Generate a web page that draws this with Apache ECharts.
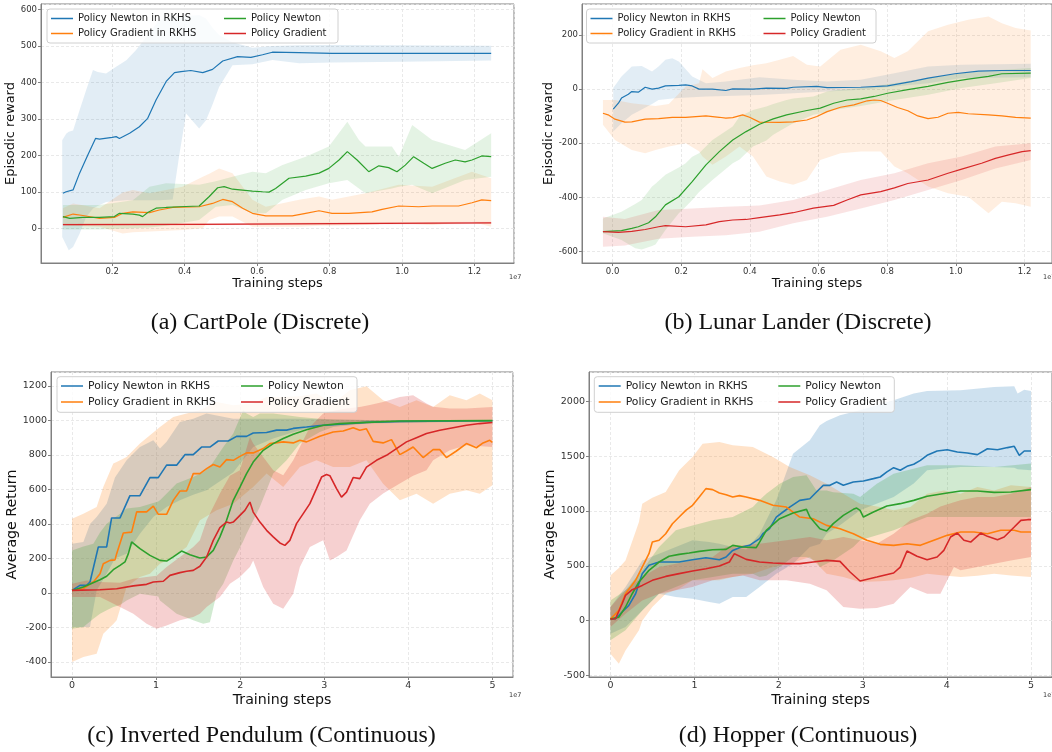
<!DOCTYPE html>
<html>
<head>
<meta charset="utf-8">
<script src="https://cdn.jsdelivr.net/npm/echarts@6/dist/echarts.min.js"></script>
<style>
  html, body { margin: 0; padding: 0; background: #fff; }
  #chart { width: 1052px; height: 752px; }
</style>
</head>
<body>
<div id="chart"></div>
<script>
// ---- data: [step (1e7), value] and bands [step, low, high] ----

// (a) CartPole
const cartNewtonRkhs = [[0.064,97],[0.073,101],[0.092,106],[0.110,152],[0.133,202],[0.154,247],[0.165,245],[0.200,250],[0.211,252],[0.220,247],[0.248,261],[0.275,279],[0.298,302],[0.321,352],[0.349,403],[0.372,427],[0.390,430],[0.417,433],[0.450,427],[0.477,436],[0.505,459],[0.546,471],[0.583,469],[0.615,476],[0.642,483],[0.716,482],[0.807,480],[0.991,480],[1.246,480]]
const cartNewtonRkhsBand = [[0.062,-23,242],[0.073,-45,260],[0.080,-59,265],[0.092,-50,269],[0.110,-14,324],[0.128,32,379],[0.147,55,434],[0.160,62,429],[0.183,73,425],[0.211,76,443],[0.239,78,461],[0.266,78,489],[0.294,78,525],[0.312,78,548],[0.330,78,571],[0.367,80,578],[0.385,200,580],[0.404,315,582],[0.440,274,585],[0.459,297,575],[0.477,340,550],[0.495,388,530],[0.532,447,510],[0.587,450,495],[0.642,462,500],[0.716,453,502],[0.807,455,503],[1.0,457,502],[1.246,460,501]]
const cartGradRkhs = [[0.064,31],[0.092,40],[0.119,36],[0.165,28],[0.206,31],[0.229,42],[0.257,46],[0.303,44],[0.330,51],[0.367,58],[0.440,60],[0.477,69],[0.505,80],[0.532,74],[0.560,56],[0.587,42],[0.624,35],[0.697,35],[0.734,42],[0.771,49],[0.807,42],[0.853,42],[0.917,46],[0.945,53],[0.991,62],[1.046,60],[1.083,62],[1.156,62],[1.193,71],[1.220,79],[1.246,77]]
const cartGradRkhsBand = [[0.064,10,56],[0.092,8,69],[0.165,5,56],[0.229,-13,99],[0.257,-10,106],[0.303,-8,97],[0.394,-4,115],[0.450,1,142],[0.468,24,150],[0.495,33,165],[0.532,33,152],[0.587,5,79],[0.624,5,60],[0.716,5,79],[0.771,8,88],[0.807,8,79],[0.899,10,97],[0.991,15,120],[1.083,10,115],[1.193,19,156],[1.246,5,138]]
const cartNewton = [[0.064,33],[0.083,28],[0.119,31],[0.165,31],[0.206,33],[0.220,42],[0.257,40],[0.275,37],[0.284,33],[0.298,44],[0.321,56],[0.349,58],[0.385,60],[0.440,62],[0.468,88],[0.491,112],[0.509,115],[0.532,108],[0.587,103],[0.615,101],[0.633,100],[0.651,110],[0.688,138],[0.734,144],[0.771,152],[0.798,165],[0.826,188],[0.849,211],[0.876,188],[0.908,156],[0.936,172],[0.963,167],[0.986,156],[1.009,174],[1.032,197],[1.060,179],[1.083,165],[1.119,179],[1.147,188],[1.174,183],[1.193,188],[1.220,199],[1.246,197]]
const cartNewtonBand = [[0.064,-2,65],[0.165,-2,65],[0.257,1,78],[0.303,3,115],[0.349,8,124],[0.440,24,120],[0.486,60,130],[0.532,65,142],[0.587,42,156],[0.624,42,152],[0.670,79,174],[0.734,106,197],[0.798,124,225],[0.849,133,293],[0.881,110,243],[0.899,97,225],[0.972,110,225],[0.991,115,197],[1.028,120,284],[1.083,97,243],[1.174,133,215],[1.246,142,261]]
const cartGrad = [[0.064,11],[0.440,12],[0.807,14],[1.246,16]]
const cartGradBand = [[0.064,8,14],[0.440,9,15],[0.807,11,17],[1.246,13,19]]

// (b) Lunar Lander
const lunarNewtonRkhs = [[0.002,-74],[0.017,-52],[0.026,-33],[0.046,-19],[0.056,-9],[0.075,-11],[0.095,7],[0.115,0],[0.134,4],[0.154,12],[0.193,14],[0.213,16],[0.232,12],[0.252,0],[0.291,0],[0.330,-5],[0.350,1],[0.409,0],[0.448,4],[0.507,3],[0.526,7],[0.595,10],[0.625,6],[0.723,7],[0.801,12],[0.870,28],[0.919,41],[0.997,57],[1.066,67],[1.134,69],[1.218,69]]
const lunarNewtonRkhsBand = [[0.002,-157,4],[0.026,-126,47],[0.056,-95,84],[0.085,-75,86],[0.115,-55,65],[0.134,-40,84],[0.154,-37,109],[0.174,-35,114],[0.193,-33,102],[0.232,-30,47],[0.272,-27,22],[0.330,-25,28],[0.428,-22,44],[0.526,-15,35],[0.625,-9,28],[0.723,-2,35],[0.821,10,59],[0.919,22,84],[1.017,41,90],[1.218,44,94]]
const lunarGradRkhs = [[-0.028,-89],[-0.013,-95],[0.007,-111],[0.036,-122],[0.056,-121],[0.095,-111],[0.134,-109],[0.174,-104],[0.213,-104],[0.272,-99],[0.311,-104],[0.330,-107],[0.350,-105],[0.379,-95],[0.399,-104],[0.428,-122],[0.487,-123],[0.526,-121],[0.566,-114],[0.595,-101],[0.625,-83],[0.664,-67],[0.703,-58],[0.742,-43],[0.762,-40],[0.781,-42],[0.801,-52],[0.830,-68],[0.860,-80],[0.889,-99],[0.919,-109],[0.948,-104],[0.977,-89],[1.007,-86],[1.036,-91],[1.095,-95],[1.134,-99],[1.174,-104],[1.218,-107]]
const lunarGradRkhsBand = [[-0.028,-132,-40],[0.007,-188,-40],[0.056,-225,-52],[0.095,-237,-58],[0.125,-225,-62],[0.164,-212,-55],[0.213,-200,10],[0.252,-230,22],[0.262,-249,74],[0.291,-280,41],[0.330,-249,65],[0.370,-212,78],[0.409,-249,88],[0.448,-323,96],[0.487,-342,109],[0.526,-354,123],[0.566,-336,90],[0.605,-262,84],[0.664,-237,146],[0.723,-231,164],[0.781,-231,140],[0.821,-286,115],[0.860,-311,140],[0.919,-360,214],[0.977,-385,238],[1.036,-398,257],[1.095,-459,269],[1.134,-416,244],[1.174,-422,226],[1.218,-435,217]]
const lunarNewton = [[-0.028,-527],[0.026,-523],[0.056,-515],[0.075,-509],[0.105,-494],[0.125,-472],[0.154,-428],[0.193,-398],[0.232,-342],[0.272,-280],[0.311,-231],[0.350,-188],[0.389,-157],[0.428,-130],[0.468,-110],[0.507,-95],[0.566,-79],[0.605,-70],[0.644,-52],[0.683,-40],[0.723,-36],[0.762,-27],[0.801,-15],[0.860,-2],[0.919,10],[0.977,25],[1.036,37],[1.095,47],[1.134,57],[1.218,59]]
const lunarNewtonBand = [[-0.028,-533,-478],[0.026,-558,-453],[0.066,-588,-425],[0.085,-593,-410],[0.115,-580,-360],[0.125,-575,-350],[0.154,-521,-317],[0.193,-459,-290],[0.213,-435,-274],[0.232,-410,-250],[0.252,-380,-237],[0.291,-336,-188],[0.350,-274,-138],[0.370,-260,-101],[0.409,-212,-77],[0.448,-190,-64],[0.468,-169,-55],[0.507,-140,-40],[0.526,-126,-35],[0.585,-95,-27],[0.625,-85,-9],[0.644,-77,-5],[0.723,-62,4],[0.821,-40,22],[0.919,-21,41],[1.017,4,59],[1.115,22,70],[1.218,41,78]]
const lunarGrad = [[-0.028,-527],[0.017,-530],[0.056,-526],[0.095,-519],[0.134,-509],[0.154,-505],[0.213,-509],[0.272,-502],[0.311,-490],[0.350,-484],[0.389,-482],[0.428,-475],[0.487,-465],[0.526,-457],[0.585,-440],[0.644,-430],[0.683,-410],[0.723,-391],[0.781,-379],[0.821,-365],[0.860,-349],[0.919,-336],[0.977,-311],[1.017,-296],[1.075,-274],[1.115,-256],[1.154,-243],[1.193,-231],[1.218,-227]]
const lunarGradBand = [[-0.028,-583,-472],[0.036,-578,-480],[0.134,-553,-447],[0.232,-546,-441],[0.330,-540,-435],[0.428,-527,-430],[0.526,-496,-410],[0.625,-472,-373],[0.723,-441,-336],[0.821,-410,-311],[0.919,-373,-274],[1.017,-336,-249],[1.115,-293,-212],[1.218,-262,-200]]

// (c) Inverted Pendulum
const pendNewtonRkhs = [[0,15],[0.095,44],[0.174,44],[0.214,64],[0.313,267],[0.412,267],[0.471,435],[0.571,435],[0.689,564],[0.808,564],[0.927,669],[1.026,669],[1.125,741],[1.244,741],[1.343,802],[1.442,802],[1.541,846],[1.640,846],[1.739,881],[1.858,881],[1.957,908],[2.076,908],[2.155,927],[2.314,930],[2.433,944],[2.552,944],[2.631,954],[2.789,962],[2.948,971],[3.106,975],[3.502,989],[3.899,994],[5.0,998]]
const pendNewtonRkhsBand = [[0,-197,286],[0.135,-197,296],[0.214,-197,400],[0.293,15,440],[0.412,112,518],[0.511,200,669],[0.649,228,769],[0.808,344,846],[0.967,440,885],[1.046,470,837],[1.125,498,876],[1.283,537,991],[1.442,570,1010],[1.600,595,1040],[1.918,700,1010],[2.155,846,1010],[2.393,895,1010],[2.710,943,1010],[3.106,972,1005],[3.502,986,1003],[5.0,996,1001]]
const pendGradRkhs = [[0,15],[0.135,25],[0.254,64],[0.333,112],[0.372,170],[0.452,189],[0.511,192],[0.531,228],[0.610,348],[0.709,353],[0.769,470],[0.887,470],[0.967,504],[1.026,456],[1.125,456],[1.204,537],[1.284,591],[1.363,591],[1.442,692],[1.521,692],[1.601,721],[1.680,745],[1.759,730],[1.838,773],[1.918,769],[1.997,792],[2.076,812],[2.155,812],[2.274,837],[2.353,866],[2.512,876],[2.631,870],[2.710,885],[2.789,876],[2.948,908],[3.106,933],[3.225,939],[3.344,958],[3.423,943],[3.502,952],[3.582,879],[3.700,870],[3.800,889],[3.899,802],[3.978,823],[4.057,846],[4.176,785],[4.295,831],[4.374,831],[4.453,785],[4.572,823],[4.691,866],[4.810,842],[4.889,870],[4.968,885],[5.0,873]]
const pendGradRkhsBand = [[0,-400,431],[0.135,-371,460],[0.293,-352,498],[0.372,-236,614],[0.491,-180,750],[0.531,-158,760],[0.649,35,788],[0.808,93,866],[0.927,112,914],[1.046,170,962],[1.204,209,1020],[1.363,267,1040],[1.521,421,1059],[1.720,479,1107],[1.918,518,1088],[2.155,614,1098],[2.314,692,1136],[2.512,614,1136],[2.710,730,1140],[2.908,769,1156],[3.106,730,1098],[3.304,730,1175],[3.502,769,1198],[3.700,633,1117],[3.899,537,1078],[4.097,575,1117],[4.295,518,1078],[4.493,575,1146],[4.691,595,1117],[4.850,575,1156],[5.0,624,1117]]
const pendNewton = [[0,15],[0.135,35],[0.333,77],[0.412,97],[0.491,135],[0.571,160],[0.630,180],[0.670,228],[0.709,296],[0.808,257],[0.927,218],[1.046,189],[1.125,185],[1.204,209],[1.303,243],[1.403,222],[1.521,203],[1.601,209],[1.680,247],[1.759,325],[1.838,421],[1.918,537],[1.997,614],[2.076,692],[2.155,759],[2.274,827],[2.393,866],[2.512,895],[2.631,920],[2.789,946],[2.987,972],[3.185,982],[3.502,989],[3.899,997],[5.0,999]]
const pendNewtonBand = [[0,-207,247],[0.135,-197,270],[0.254,-150,286],[0.333,-120,350],[0.412,-100,402],[0.491,-81,430],[0.571,-70,460],[0.649,-43,490],[0.808,-4,498],[1.026,-20,530],[1.046,-43,537],[1.244,-120,634],[1.442,-158,672],[1.561,-178,700],[1.640,-170,730],[1.720,-4,788],[1.799,54,846],[1.918,189,924],[2.036,300,1059],[2.076,344,1040],[2.155,420,1020],[2.234,498,1040],[2.393,692,1040],[2.552,769,1030],[2.710,866,1020],[2.948,933,1010],[3.106,962,1005],[3.502,982,1003],[5.0,996,1001]]
const pendGrad = [[0,15],[0.333,19],[0.531,25],[0.729,41],[0.887,50],[0.967,64],[1.086,68],[1.165,102],[1.284,118],[1.363,126],[1.442,131],[1.521,155],[1.601,209],[1.680,305],[1.759,379],[1.838,411],[1.878,406],[1.918,411],[1.997,450],[2.056,479],[2.116,527],[2.155,469],[2.235,411],[2.314,363],[2.393,325],[2.472,290],[2.532,276],[2.591,305],[2.670,402],[2.750,460],[2.829,518],[2.908,605],[2.968,672],[3.027,687],[3.067,680],[3.146,605],[3.205,556],[3.265,585],[3.344,669],[3.423,663],[3.502,730],[3.621,769],[3.740,798],[3.859,837],[3.978,876],[4.097,900],[4.216,924],[4.374,943],[4.533,958],[4.691,972],[4.850,982],[5.0,988]]
const pendGradBand = [[0,-23,54],[0.174,-23,73],[0.333,-23,64],[0.571,-81,60],[0.729,-120,83],[0.887,-178,93],[1.006,-207,100],[1.125,-188,151],[1.284,-158,209],[1.442,-139,267],[1.521,-120,305],[1.601,-81,421],[1.759,-23,576],[1.878,54,680],[1.997,93,711],[2.116,150,904],[2.155,189,866],[2.274,35,788],[2.393,-62,711],[2.512,-91,682],[2.631,-4,769],[2.710,151,846],[2.829,267,962],[2.987,305,1040],[3.067,189,1050],[3.146,209,1060],[3.265,247,1069],[3.423,421,1078],[3.542,518,1090],[3.700,576,1107],[3.899,634,1136],[4.057,680,1146],[4.216,711,1098],[4.295,769,1080],[4.493,827,1069],[4.691,856,1069],[5.0,846,1078]]

// (d) Hopper
const hopNewtonRkhs = [[0,15],[0.060,18],[0.139,79],[0.219,140],[0.299,246],[0.378,429],[0.458,505],[0.578,535],[0.817,535],[0.976,556],[1.135,574],[1.295,556],[1.375,581],[1.454,641],[1.534,666],[1.653,687],[1.773,748],[1.813,793],[1.892,839],[1.972,945],[2.052,991],[2.131,1036],[2.251,1097],[2.371,1112],[2.450,1173],[2.530,1234],[2.610,1234],[2.689,1264],[2.769,1234],[2.888,1264],[3.008,1274],[3.127,1295],[3.207,1310],[3.287,1356],[3.367,1395],[3.446,1371],[3.526,1407],[3.606,1426],[3.685,1462],[3.765,1508],[3.884,1547],[4.004,1559],[4.124,1538],[4.243,1529],[4.363,1514],[4.482,1568],[4.602,1559],[4.721,1578],[4.801,1590],[4.861,1508],[4.920,1547],[5.0,1547]]
const hopNewtonRkhsBand = [[0,-119,125],[0.179,-58,307],[0.378,94,550],[0.578,246,611],[0.777,216,672],[0.976,200,733],[1.175,170,717],[1.295,155,702],[1.454,216,672],[1.614,216,650],[1.773,307,793],[1.972,429,1097],[2.171,520,1523],[2.371,672,1644],[2.490,700,1781],[2.570,793,1820],[2.729,870,1872],[2.968,1006,1918],[3.367,1128,2009],[3.606,1250,2070],[3.765,1371,2094],[4.163,1401,2100],[4.562,1401,2131],[4.801,1395,2137],[4.841,1380,2070],[4.920,1375,2106],[5.0,1371,2094]]
const hopGradRkhs = [[0,15],[0.100,94],[0.179,246],[0.299,368],[0.378,489],[0.458,611],[0.498,717],[0.578,733],[0.657,793],[0.737,884],[0.817,945],[0.896,1006],[0.976,1052],[1.056,1128],[1.135,1204],[1.215,1195],[1.295,1164],[1.375,1149],[1.454,1128],[1.534,1140],[1.614,1128],[1.773,1097],[1.932,1052],[2.092,1036],[2.251,945],[2.410,930],[2.570,869],[2.729,839],[2.888,793],[3.048,733],[3.207,696],[3.367,687],[3.526,702],[3.685,687],[3.845,733],[4.004,778],[4.163,809],[4.323,809],[4.482,793],[4.641,824],[4.801,824],[4.880,809],[5.0,809]]
const hopGradRkhsBand = [[0,-301,413],[0.100,-392,480],[0.179,-271,550],[0.339,-88,900],[0.378,0,1067],[0.498,125,1120],[0.657,246,1173],[0.817,292,1371],[0.976,368,1492],[1.096,368,1614],[1.295,368,1629],[1.454,398,1599],[1.693,429,1583],[1.932,489,1492],[2.131,520,1401],[2.371,581,1325],[2.570,429,1249],[2.769,398,1158],[2.968,353,1067],[3.207,360,1036],[3.367,368,1006],[3.566,390,1036],[3.765,429,1158],[3.964,413,1188],[4.163,398,1158],[4.363,410,1219],[4.562,429,1188],[4.761,413,1234],[5.0,398,1219]]
const hopNewton = [[0,15],[0.100,33],[0.179,125],[0.259,246],[0.339,353],[0.458,459],[0.578,535],[0.697,587],[0.817,605],[0.936,617],[1.056,632],[1.215,647],[1.375,650],[1.454,687],[1.574,672],[1.733,666],[1.773,717],[1.853,824],[2.012,930],[2.171,982],[2.331,1015],[2.371,945],[2.490,839],[2.570,818],[2.649,885],[2.769,960],[2.888,1015],[2.928,1027],[2.968,1006],[3.008,945],[3.127,991],[3.287,1046],[3.446,1067],[3.606,1097],[3.765,1134],[4.004,1164],[4.163,1182],[4.363,1182],[4.562,1170],[4.761,1173],[5.0,1195]]
const hopNewtonBand = [[0,-179,185],[0.179,-88,277],[0.378,94,459],[0.578,246,672],[0.777,307,824],[0.976,368,869],[1.215,398,915],[1.454,429,945],[1.693,429,1036],[1.773,398,1100],[1.853,410,1158],[2.012,489,1249],[2.171,581,1310],[2.331,581,1325],[2.450,540,1188],[2.490,489,1188],[2.570,520,1188],[2.649,550,1170],[2.888,672,1158],[2.968,733,1128],[3.167,778,1249],[3.367,824,1340],[3.765,945,1416],[4.163,945,1416],[4.562,945,1401],[5.0,945,1432]]
const hopGrad = [[0,15],[0.060,18],[0.139,155],[0.179,231],[0.259,283],[0.378,322],[0.498,368],[0.657,404],[0.817,429],[0.976,453],[1.135,474],[1.295,498],[1.414,535],[1.474,611],[1.614,559],[1.773,535],[1.932,526],[2.092,520],[2.251,520],[2.410,535],[2.570,550],[2.729,541],[2.849,444],[2.968,362],[3.167,398],[3.367,435],[3.446,489],[3.526,635],[3.645,587],[3.765,556],[3.884,581],[3.964,641],[4.044,763],[4.124,799],[4.203,733],[4.283,717],[4.402,799],[4.482,769],[4.602,739],[4.681,763],[4.801,854],[4.880,915],[4.960,921],[5.0,921]]
const hopGradBand = [[0,-58,125],[0.179,64,277],[0.378,185,398],[0.578,246,489],[0.777,277,520],[0.976,307,550],[1.215,368,581],[1.375,390,672],[1.574,413,687],[1.773,368,702],[2.092,368,733],[2.371,337,763],[2.570,277,733],[2.769,125,763],[2.968,109,733],[3.167,115,702],[3.367,155,793],[3.566,307,915],[3.765,246,976],[3.924,246,1040],[4.084,489,1080],[4.163,459,1097],[4.363,489,1128],[4.562,520,1128],[4.761,550,1158],[5.0,581,1219]]

const seriesNames = ['Policy Newton in RKHS', 'Policy Gradient in RKHS', 'Policy Newton', 'Policy Gradient']
const seriesColors = ['#1f77b4', '#ff7f0e', '#2ca02c', '#d62728']
const titles = ['(a) CartPole (Discrete)', '(b) Lunar Lander (Discrete)', '(c) Inverted Pendulum (Continuous)', '(d) Hopper (Continuous)']

const panels = [
  {
    grid: { left: 41, top: 4, width: 473, height: 259 },
    xRange: [0.0035, 1.309], yRange: [-94, 615], xSplit: 6, ySplit: 5, xDigits: 1,
    yName: 'Episodic reward', yGap: 19, xGap: 12, tickSize: 8.5, nameSize: 13,
    lineWidth: 1.2, bandAlpha: 0.13,
    lines: [cartNewtonRkhs, cartGradRkhs, cartNewton, cartGrad],
    bands: [cartNewtonRkhsBand, cartGradRkhsBand, cartNewtonBand, cartGradBand],
    legend: { col1: 51, col2: 224, top: 12, lh: 13, gap: 7, font: 10 },
    box: [47, 9, 291, 34], exp: [509, 277], title: [260, 323],
  },
  {
    grid: { left: 582, top: 4, width: 475, height: 259 },
    xRange: [-0.089, 1.28], yRange: [-643, 315], xSplit: 6, ySplit: 5, xDigits: 1,
    yName: 'Episodic reward', yGap: 22, xGap: 12, tickSize: 8.5, nameSize: 13,
    lineWidth: 1.2, bandAlpha: 0.13,
    lines: [lunarNewtonRkhs, lunarGradRkhs, lunarNewton, lunarGrad],
    bands: [lunarNewtonRkhsBand, lunarGradRkhsBand, lunarNewtonBand, lunarGradBand],
    legend: { col1: 590.5, col2: 763.5, top: 12, lh: 13, gap: 7, font: 10 },
    box: [586.5, 9, 289.5, 34], exp: [1043, 277], title: [798, 323],
  },
  {
    grid: { left: 51, top: 372, width: 462, height: 305 },
    xRange: [-0.25, 5.245], yRange: [-487, 1281], xSplit: 5, ySplit: 8, xDigits: 0,
    yName: 'Average Return', yGap: 27, xGap: 16, tickSize: 9.5, nameSize: 14.2,
    lineWidth: 1.6, bandAlpha: 0.22,
    lines: [pendNewtonRkhs, pendGradRkhs, pendNewton, pendGrad],
    bands: [pendNewtonRkhsBand, pendGradRkhsBand, pendNewtonBand, pendGradBand],
    legend: { col1: 61, col2: 241, top: 379, lh: 14, gap: 9, font: 10.8 },
    box: [57, 376.7, 300, 35.6], exp: [509, 695], title: [261.5, 736],
  },
  {
    grid: { left: 589, top: 372, width: 468, height: 305 },
    xRange: [-0.255, 5.25], yRange: [-513, 2267], xSplit: 5, ySplit: 5, xDigits: 0,
    yName: 'Average Return', yGap: 28, xGap: 16, tickSize: 9.5, nameSize: 14.2,
    lineWidth: 1.6, bandAlpha: 0.22,
    lines: [hopNewtonRkhs, hopGradRkhs, hopNewton, hopGrad],
    bands: [hopNewtonRkhsBand, hopGradRkhsBand, hopNewtonBand, hopGradBand],
    legend: { col1: 598.7, col2: 778.3, top: 379, lh: 14, gap: 8.6, font: 10.8 },
    box: [594.3, 376.7, 300, 35.6], exp: [1043, 695], title: [798, 736],
  },
]

const frameColor = '#808080'
const fontFamily = 'DejaVu Sans'

const grids = [], xAxes = [], yAxes = [], series = [], legends = [], graphics = []

panels.forEach((p, i) => {
  grids.push({ ...p.grid, show: true, borderColor: frameColor, borderWidth: 1, containLabel: false })

  const splitLine = { show: true, lineStyle: { color: '#e3e3e3', width: 0.8, type: [3, 2] } }
  xAxes.push({
    type: 'value', gridIndex: i, min: p.xRange[0], max: p.xRange[1], splitNumber: p.xSplit,
    name: 'Training steps', nameLocation: 'middle', nameGap: p.xGap,
    nameTextStyle: { fontFamily, fontSize: p.nameSize, color: '#111' },
    axisLine: { show: true, onZero: false, lineStyle: { color: frameColor } },
    axisTick: { show: true, length: 3, lineStyle: { color: frameColor } },
    axisLabel: {
      fontFamily, fontSize: p.tickSize, color: '#333', margin: 4,
      showMinLabel: false, showMaxLabel: false,
      formatter: (v) => v.toFixed(p.xDigits),
    },
    splitLine,
  })
  yAxes.push({
    type: 'value', gridIndex: i, min: p.yRange[0], max: p.yRange[1], splitNumber: p.ySplit,
    name: p.yName, nameLocation: 'middle', nameGap: p.yGap,
    nameTextStyle: { fontFamily, fontSize: p.nameSize, color: '#111' },
    axisLine: { show: true, onZero: false, lineStyle: { color: frameColor } },
    axisTick: { show: true, length: 3, lineStyle: { color: frameColor } },
    axisLabel: {
      fontFamily, fontSize: p.tickSize, color: '#333', margin: 4,
      showMinLabel: false, showMaxLabel: false,
      formatter: (v) => String(Math.round(v)),
    },
    splitLine,
  })

  // shaded bands first, as filled polygons through the axis scales
  p.bands.forEach((band, k) => {
    series.push({
      type: 'custom', name: 'band' + i + k, xAxisIndex: i, yAxisIndex: i,
      data: band, encode: { x: 0, y: [1, 2] }, clip: true, silent: true, z: 1,
      renderItem: (params, api) => {
        if (params.dataIndexInside !== 0) return null
        const upper = band.map((d) => api.coord([d[0], d[2]]))
        const lower = band.map((d) => api.coord([d[0], d[1]])).reverse()
        return {
          type: 'polygon',
          shape: { points: upper.concat(lower) },
          style: { fill: seriesColors[k], opacity: p.bandAlpha },
        }
      },
    })
  })

  p.lines.forEach((line, k) => {
    series.push({
      type: 'line', name: seriesNames[k], xAxisIndex: i, yAxisIndex: i,
      data: line, symbol: 'none', showSymbol: false, z: 3,
      lineStyle: { color: seriesColors[k], width: p.lineWidth },
      itemStyle: { color: seriesColors[k] },
    })
  })

  const L = p.legend
  const legendBase = {
    orient: 'vertical', top: L.top, icon: 'rect', itemWidth: 22, itemHeight: 1.5,
    itemGap: 2, itemTextGap: L.gap, selectedMode: false, z: 5, padding: 0,
    textStyle: { fontFamily, fontSize: L.font, lineHeight: L.lh, color: '#222' },
  }
  legends.push({ ...legendBase, left: L.col1, data: seriesNames.slice(0, 2) })
  legends.push({ ...legendBase, left: L.col2, data: seriesNames.slice(2, 4) })

  graphics.push({
    type: 'rect', z: 4,
    shape: { x: p.box[0], y: p.box[1], width: p.box[2], height: p.box[3], r: 3 },
    style: { fill: 'rgba(255,255,255,0.8)', stroke: '#d0d0d0', lineWidth: 1 },
  })
  graphics.push({
    type: 'text', z: 4, x: p.exp[0], y: p.exp[1],
    style: { text: '1e7', font: '6.5px DejaVu Sans', fill: '#333', align: 'left', verticalAlign: 'middle' },
  })
  graphics.push({
    type: 'text', z: 4, x: p.title[0], y: p.title[1],
    style: { text: titles[i], font: '24px "Liberation Serif"', fill: '#111', align: 'center', verticalAlign: 'middle' },
  })
})

const chart = echarts.init(document.getElementById('chart'))
chart.setOption({
  animation: false,
  backgroundColor: '#fff',
  grid: grids,
  xAxis: xAxes,
  yAxis: yAxes,
  legend: legends,
  graphic: graphics,
  series,
})
</script>
</body>
</html>
